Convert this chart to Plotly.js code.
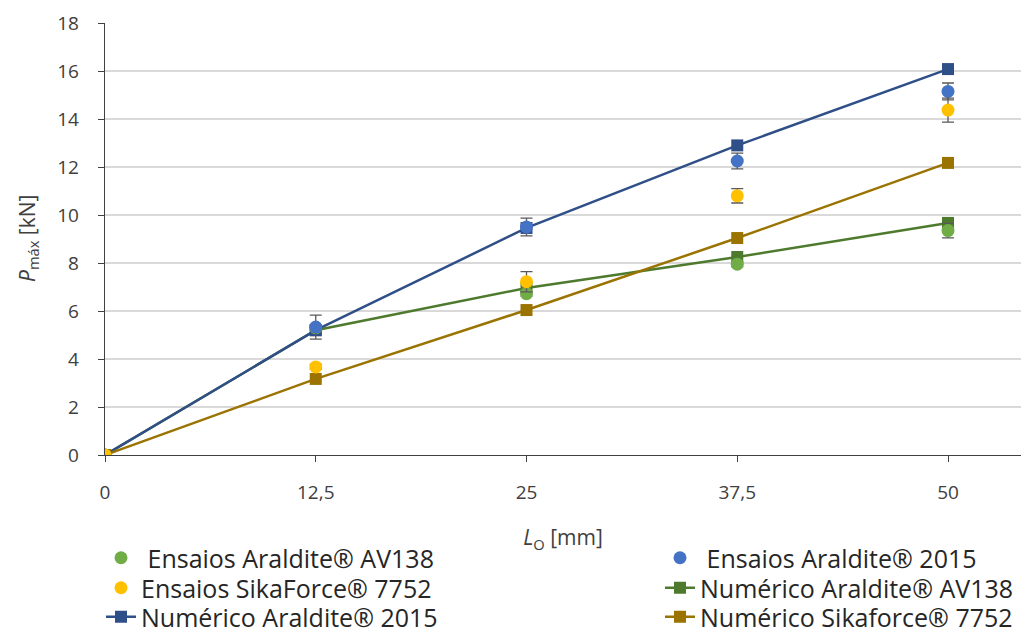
<!DOCTYPE html>
<html>
<head>
<meta charset="utf-8">
<script src="https://cdn.plot.ly/plotly-3.0.1.min.js"></script>
<style>html,body{margin:0;padding:0;background:#fff;}#chart{width:1021px;height:635px;}</style>
</head>
<body>
<div id="chart"></div>
<script>
// Overlap length L_O [mm]
const lengths = [0, 12.5, 25, 37.5, 50];
const xTickVals = [0, 12.5, 25, 37.5, 50];
const xTickText = ['0', '12,5', '25', '37,5', '50'];

// Experimental (Ensaios) mean values and error (kN)
const ensAV138 = [0, 5.3, 6.72, 7.95, 9.35];
const ensAV138Err = [0, 0.1, 0.1, 0.1, 0.3];
const ens2015 = [0, 5.33, 9.5, 12.25, 15.15];
const ens2015Err = [0, 0.5, 0.37, 0.33, 0.35];
const ensSika = [0, 3.67, 7.22, 10.8, 14.37];
const ensSikaErr = [0, 0.1, 0.42, 0.3, 0.5];

// Numerical (Numérico) values (kN)
const numAV138 = [0, 5.2, 6.96, 8.25, 9.67];
const num2015 = [0, 5.2, 9.46, 12.9, 16.08];
const numSika = [0, 3.17, 6.04, 9.04, 12.17];

const FONT = 'Open Sans, DejaVu Sans, sans-serif';
const errStyle = {type: 'data', visible: true, color: '#595959', thickness: 1.3, width: 6};

function numTrace(name, y, color, legend) {
  return {
    type: 'scatter', mode: 'lines+markers', x: lengths, y: y, name: name,
    legend: legend,
    line: {color: color, width: 2.5},
    marker: {symbol: 'square', size: 12, color: color}
  };
}
function ensTrace(name, y, err, color, legend) {
  return {
    type: 'scatter', mode: 'markers', x: lengths, y: y, name: name,
    legend: legend,
    error_y: Object.assign({array: err}, errStyle),
    marker: {symbol: 'circle', size: 13, color: color}
  };
}

const traces = [
  numTrace('Numérico Araldite® AV138', numAV138, '#4E7A2E', 'legend4'),
  numTrace('Numérico Araldite® 2015', num2015, '#2F4F88', 'legend5'),
  numTrace('Numérico Sikaforce® 7752', numSika, '#9A7300', 'legend6'),
  ensTrace('\u00A0Ensaios Araldite® AV138', ensAV138, ensAV138Err, '#70AD47', 'legend'),
  ensTrace('\u00A0Ensaios Araldite® 2015', ens2015, ens2015Err, '#4472C4', 'legend2'),
  ensTrace('Ensaios SikaForce® 7752', ensSika, ensSikaErr, '#FFC000', 'legend3')
];

function leg(xpx, ypx) {
  return {
    orientation: 'v', xref: 'container', yref: 'container', xanchor: 'left', yanchor: 'middle',
    x: xpx / 1021, y: 1 - ypx / 635,
    font: {family: FONT, size: 25, color: '#262626'}, bgcolor: 'rgba(0,0,0,0)',
    itemwidth: 30
  };
}

const layout = {
  width: 1021, height: 635,
  margin: {l: 105, r: 0, t: 23, b: 180, autoexpand: false},
  paper_bgcolor: '#ffffff', plot_bgcolor: '#ffffff',
  font: {family: FONT, size: 19, color: '#404040'},
  showlegend: true,
  xaxis: {
    range: [0, 54.33], tickvals: xTickVals, ticktext: xTickText,
    showgrid: false, zeroline: false, showline: true, linecolor: '#404040', linewidth: 1.3,
    ticks: 'outside', ticklen: 6, tickcolor: '#404040', ticklabelstandoff: 14,
    tickfont: {family: FONT, size: 19, color: '#404040'},
    title: {text: '<i>L</i><sub>O</sub> [mm]', font: {family: FONT, size: 21, color: '#404040'}, standoff: 26}
  },
  yaxis: {
    range: [0, 18], dtick: 2, tick0: 0,
    showgrid: true, gridcolor: '#D9D9D9', gridwidth: 1.3,
    zeroline: false, showline: true, linecolor: '#404040', linewidth: 1.3,
    ticks: 'outside', ticklen: 6, tickcolor: '#404040', ticklabelstandoff: 15,
    tickfont: {family: FONT, size: 19, color: '#404040'}
  },
  annotations: [{
    text: '<i>P</i><sub>máx</sub> [kN]', textangle: -90,
    xref: 'paper', yref: 'paper', x: (28 - 105) / 916, y: 0.5,
    xanchor: 'center', yanchor: 'middle', showarrow: false,
    font: {family: FONT, size: 21, color: '#404040'}
  }],
  legend: leg(101, 558),
  legend3: leg(101, 588),
  legend5: leg(101, 617),
  legend2: leg(660, 558),
  legend4: leg(660, 588),
  legend6: leg(660, 617)
};

Plotly.newPlot('chart', traces, layout, {displayModeBar: false, staticPlot: true});
</script>
</body>
</html>
